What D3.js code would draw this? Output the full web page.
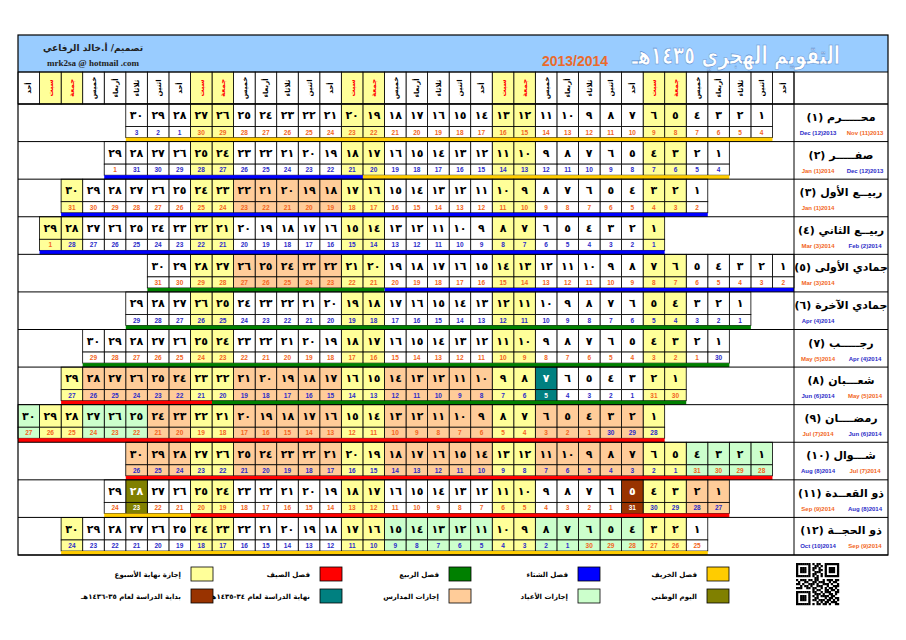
<!DOCTYPE html>
<html><head><meta charset="utf-8">
<script src="https://cdn.jsdelivr.net/npm/d3@7"></script>
<style>body{margin:0;background:#fff} svg{display:block}</style>
</head><body>
<svg id="c" width="906" height="640"></svg>
<script>
// ---------------- DATA ----------------
const weekdayNames = ["أحد","اثنين","ثلاثاء","أربعاء","خميس","جمعة","سبت"]; // 0 = Sunday
const weekendDays = [5, 6];
const monthNames = ["محـــــرم (١)","صفـــــر (٢)","ربيــع الأول (٣)","ربيــع الثاني (٤)","جمادي الأولى (٥)","جمادي الآخرة (٦)","رجـــــب (٧)","شعـــبان (٨)","رمضــــان (٩)","شـــوال (١٠)","ذو القعــدة (١١)","ذو الحجــة (١٢)"];
const monthStartWeekday = [1,3,4,6,0,2,3,5,6,1,3,4];
const monthLengths = [30,29,30,29,30,29,30,29,30,30,29,30];
const gregStartDay = [4,4,2,1,2,1,30,30,28,28,27,25];
const gregStartMonth = [11,12,1,2,3,4,4,5,6,7,8,9];
const gregStartYear = [2013,2013,2014,2014,2014,2014,2014,2014,2014,2014,2014,2014];
const gregMonthAbbr = ["Jan","Feb","Mar","Apr","May","Jun","Jul","Aug","Sep","Oct","Nov","Dec"];
const gregMonthLengths = [31,28,31,30,31,30,31,31,30,31,30,31];
// [month index, from day, to day]
const schoolHolidays = [[2,18,22],[4,22,26],[7,10,29],[8,1,24],[9,5,30],[10,1,4]];
const eidHolidays = [[8,25,30],[9,1,4],[11,4,15]];
const specialDays = [[7,7,"end"],[10,5,"start"],[10,28,"national"]];
const seasonSegments = [[0,1,30,"autumn"],[1,1,17,"autumn"],[1,18,29,"winter"],[2,1,30,"winter"],[3,1,29,"winter"],[4,1,19,"winter"],[4,20,30,"spring"],[5,1,29,"spring"],[6,1,30,"spring"],[7,1,22,"spring"],[7,23,29,"summer"],[8,1,30,"summer"],[9,1,30,"summer"],[10,1,25,"summer"],[10,26,29,"autumn"],[11,1,30,"autumn"]];
const legendRow1 = [["autumn","فصل الخريف"],["winter","فصل الشتاء"],["spring","فصل الربيع"],["summer","فصل الصيف"],["weekend","إجازة نهاية الأسبوع"]];
const legendRow2 = [["national","اليوم الوطني"],["eid","إجازات الأعياد"],["school","إجازات المدارس"],["end","نهاية الدراسة لعام ٣٤-١٤٣٥هـ"],["start","بداية الدراسة لعام ٣٥-١٤٣٦هـ"]];
const qrRows = [
"111111101011001111111","100000100110101000001","101110101101001011101","101110101001101011101",
"101110100111001011101","100000101100101000001","111111101010101111111","000000000110000000000",
"101110110110010111011","010011001101110010110","110100111010011101001","001011010011100100111",
"111001101100101011010","000000001011001101101","111111101100101110011","100000100111010011010",
"101110101010111101100","101110100110001011011","101110101101110110101","100000100010101101110",
"111111101011011010011"];
const titleText = "التقويم الهجري ١٤٣٥هـ";
const yearText = "2013/2014";
const designerText = "تصميم/ أ.خالد الرفاعي";
const emailText = "mrk2sa @ hotmail .com";

// ---------------- STYLE ----------------
const fills = {normal:"#FFFFFF", weekend:"#FFFF99", school:"#FFCC99", eid:"#CCFFCC", end:"#008080", start:"#993300", national:"#808000"};
const seasonColors = {autumn:"#FFCC00", winter:"#0000FF", spring:"#008000", summer:"#FF0000"};
const legendColors = Object.assign({}, seasonColors, fills);
const orange = "#F26522", blue = "#2B2BC8";
const AR = "DejaVu Sans, sans-serif";
const LAT = "Liberation Sans, Arial, sans-serif";
const toAr = n => String(n).replace(/\d/g, c => "٠١٢٣٤٥٦٧٨٩"[c]);

const svg = d3.select("#c");
const L = 18, R = 888, T = 35, bandB = 72, headB = 104, B = 555, dayR = 794;
const nCols = 36;
const x = d3.scaleBand().domain(d3.range(nCols)).range([dayR, L]);
const cw = x.bandwidth();
const y = d3.scaleBand().domain(d3.range(12)).range([headB, B]);
const rh = y.bandwidth();
const hH = rh * 0.6, gH = rh * 0.295;

svg.append("rect").attr("width",906).attr("height",640).attr("fill","#fff");

// header band
svg.append("rect").attr("x",L).attr("y",T).attr("width",R-L).attr("height",bandB-T).attr("fill","#99CCFF");
svg.append("text").attr("x",736).attr("y",64).attr("text-anchor","middle").attr("direction","rtl")
  .attr("font-family",AR).attr("font-weight","bold").attr("font-size",25)
  .attr("textLength",208).attr("lengthAdjust","spacingAndGlyphs")
  .attr("fill","#fff").attr("stroke","#5b8fd0").attr("stroke-width",0.6).text(titleText);
svg.append("text").attr("x",575).attr("y",66).attr("text-anchor","middle")
  .attr("font-family",LAT).attr("font-weight","bold").attr("font-size",14).attr("fill","#EA6A2C").text(yearText);
svg.append("text").attr("x",93).attr("y",51).attr("text-anchor","middle").attr("direction","rtl")
  .attr("font-family",AR).attr("font-weight","bold").attr("font-size",9).attr("fill","#222").text(designerText);
svg.append("text").attr("x",93).attr("y",66).attr("text-anchor","middle")
  .attr("font-family","Liberation Serif, serif").attr("font-weight","bold").attr("font-size",9).attr("fill","#222").text(emailText);

// weekday header
const hg = svg.append("g");
d3.range(nCols).forEach(c => {
  const wd = c % 7, we = weekendDays.includes(wd);
  hg.append("rect").attr("x",x(c)).attr("y",bandB).attr("width",cw).attr("height",headB-bandB)
    .attr("fill", we ? fills.weekend : "#fff").attr("stroke","#000").attr("stroke-width",0.8);
  const cx = x(c)+cw/2, cy = (bandB+headB)/2;
  hg.append("text").attr("transform",`translate(${cx+2.5},${cy}) rotate(-90)`).attr("text-anchor","middle")
    .attr("direction","rtl").attr("font-family",AR).attr("font-weight","bold").attr("font-size",7)
    .attr("fill", we ? "#FF0000" : "#000").text(weekdayNames[wd]);
});

// helpers
function inRanges(list, m, d){ return list.some(r => r[0]===m && d>=r[1] && d<=r[2]); }
function cellType(m, d, col){
  const sp = specialDays.find(s => s[0]===m && s[1]===d);
  if (sp) return sp[2];
  if (weekendDays.includes(col % 7)) return "weekend";
  if (inRanges(eidHolidays, m, d)) return "eid";
  if (inRanges(schoolHolidays, m, d)) return "school";
  return "normal";
}

// month rows
const rows = svg.append("g");
monthNames.forEach((name, m) => {
  const top = y(m);
  const g = rows.append("g");
  const months = [];
  d3.range(1, monthLengths[m]+1).forEach(d => {
    const col = monthStartWeekday[m] + d - 1;
    let gm = gregStartMonth[m], gd = gregStartDay[m] + d - 1, gy = gregStartYear[m];
    const len = gregMonthLengths[gm-1];
    if (gd > len) { gd -= len; gm = gm % 12 + 1; if (gm === 1) gy++; }
    if (!months.find(o => o.m === gm)) months.push({m: gm, y: gy});
    const t = cellType(m, d, col);
    const dark = (t === "end" || t === "start" || t === "national");
    const gcol = dark ? "#fff" : (gm % 2 ? orange : blue);
    g.append("rect").attr("x",x(col)).attr("y",top).attr("width",cw).attr("height",hH)
      .attr("fill",fills[t]).attr("stroke","#000").attr("stroke-width",0.8);
    g.append("rect").attr("x",x(col)).attr("y",top+hH).attr("width",cw).attr("height",gH)
      .attr("fill",fills[t]).attr("stroke","#000").attr("stroke-width",0.8);
    g.append("text").attr("x",x(col)+cw/2).attr("y",top+hH/2+4).attr("text-anchor","middle")
      .attr("font-family",AR).attr("font-weight","bold").attr("font-size",11)
      .attr("fill", dark ? "#fff" : "#000").text(toAr(d));
    g.append("text").attr("x",x(col)+cw/2).attr("y",top+hH+gH/2+2.5).attr("text-anchor","middle")
      .attr("font-family",LAT).attr("font-weight","bold").attr("font-size",6.5)
      .attr("fill", gcol).text(gd);
  });
  // season bar
  seasonSegments.filter(s => s[0]===m).forEach(s => {
    const c1 = monthStartWeekday[m] + s[1] - 1, c2 = monthStartWeekday[m] + s[2] - 1;
    g.append("rect").attr("x",x(c2)).attr("y",top+hH+gH).attr("width",x(c1)+cw-x(c2)).attr("height",rh-hH-gH)
      .attr("fill",seasonColors[s[3]]);
  });
  // label
  g.append("text").attr("x",(dayR+R)/2).attr("y",top+17).attr("text-anchor","middle").attr("direction","rtl")
    .attr("font-family",AR).attr("font-weight","bold").attr("font-size",11).attr("fill","#000").text(name);
  const labPos = [818, 865];
  const ordered = months.length === 2 ? [months[1], months[0]] : months;
  ordered.forEach((o, i) => {
    g.append("text").attr("x",labPos[i]).attr("y",top+31).attr("text-anchor","middle")
      .attr("font-family",LAT).attr("font-weight","bold").attr("font-size",6)
      .attr("fill", o.m % 2 ? orange : blue).text(`${gregMonthAbbr[o.m-1]} (${o.m})${o.y}`);
  });
  // row top line
  g.append("line").attr("x1",L).attr("x2",R).attr("y1",top).attr("y2",top).attr("stroke","#000").attr("stroke-width",1);
});

// structural lines
const lines = svg.append("g").attr("stroke","#000").attr("fill","none");
lines.append("line").attr("x1",L).attr("x2",R).attr("y1",bandB).attr("y2",bandB).attr("stroke-width",1);
lines.append("line").attr("x1",L).attr("x2",R).attr("y1",headB).attr("y2",headB).attr("stroke-width",1);
lines.append("line").attr("x1",dayR).attr("x2",dayR).attr("y1",bandB).attr("y2",B).attr("stroke-width",1);
lines.append("line").attr("x1",L).attr("x2",R).attr("y1",B).attr("y2",B).attr("stroke-width",1);
lines.append("rect").attr("x",L).attr("y",T).attr("width",R-L).attr("height",B-T).attr("stroke-width",1.2);

// legend
const legX = d3.scaleLinear().domain([0,4]).range([707,191]);
const legY = [567, 589];
[legendRow1, legendRow2].forEach((row, ri) => {
  row.forEach((item, i) => {
    svg.append("rect").attr("x",legX(i)).attr("y",legY[ri]).attr("width",22).attr("height",14)
      .attr("fill",legendColors[item[0]]).attr("stroke","#000").attr("stroke-width",0.8);
    svg.append("text").attr("x",legX(i)-10).attr("y",legY[ri]+9.5).attr("text-anchor","start").attr("direction","rtl")
      .attr("font-family",AR).attr("font-weight","bold").attr("font-size",7).attr("fill","#000").text(item[1]);
  });
});

// QR code
const qx = d3.scaleLinear().domain([0,21]).range([796,839]);
const qy = d3.scaleLinear().domain([0,21]).range([563,605]);
qrRows.forEach((r, ri) => r.split("").forEach((b, ci) => {
  if (b === "1") svg.append("rect").attr("x",qx(ci)).attr("y",qy(ri)).attr("width",qx(1)-qx(0)+0.2).attr("height",qy(1)-qy(0)+0.2).attr("fill","#000");
}));
</script>
</body></html>
